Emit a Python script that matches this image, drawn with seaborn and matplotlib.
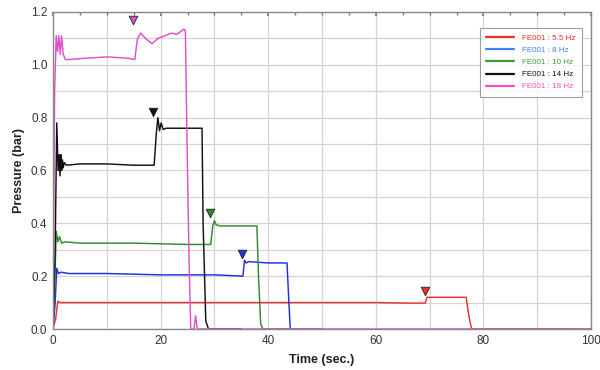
import matplotlib
matplotlib.use("Agg")
import matplotlib.pyplot as plt
import seaborn as sns
import pandas as pd
from matplotlib.ticker import MultipleLocator

# Pressure traces for each pump frequency (time in s, pressure in bar)
t_55 = [0, 0.5, 0.9, 1.3, 3, 10, 20, 30, 40, 50, 60, 66, 69.2, 69.5, 70.0, 72, 76.8, 77.3, 77.8, 85, 100]
p_55 = [0, 0.04, 0.105, 0.10, 0.10, 0.10, 0.10, 0.10, 0.10, 0.10, 0.10, 0.098, 0.098, 0.12, 0.12, 0.12, 0.12, 0.05, 0.0, 0.0, 0.0]

t_8 = [0, 0.4, 0.7, 1.0, 1.5, 3, 10, 20, 30, 35.3, 35.6, 35.9, 36.4, 40, 43.5, 43.8, 44.1, 50]
p_8 = [0, 0.10, 0.23, 0.21, 0.215, 0.21, 0.21, 0.205, 0.205, 0.20, 0.26, 0.25, 0.255, 0.25, 0.25, 0.12, 0.0, 0.0]

t_10 = [0, 0.3, 0.6, 0.9, 1.2, 1.6, 2.2, 5, 15, 25, 29.3, 29.7, 30.0, 30.3, 31, 35, 37.9, 38.2, 38.6, 39.0, 45]
p_10 = [0, 0.15, 0.37, 0.33, 0.35, 0.325, 0.33, 0.325, 0.325, 0.32, 0.32, 0.39, 0.41, 0.395, 0.39, 0.39, 0.39, 0.20, 0.02, 0.0, 0.0]

t_14 = [0, 0.4, 0.7, 0.95, 1.15, 1.3, 1.45, 1.6, 1.75, 1.9, 2.1, 2.5, 5, 10, 15, 18.8, 19.2, 19.5, 19.8, 20.1, 20.5, 21, 24, 27.7, 27.9, 28.4, 28.9, 35]
p_14 = [0, 0.30, 0.78, 0.60, 0.66, 0.58, 0.66, 0.60, 0.64, 0.61, 0.63, 0.62, 0.625, 0.625, 0.62, 0.62, 0.74, 0.80, 0.75, 0.78, 0.755, 0.76, 0.76, 0.76, 0.40, 0.03, 0.0, 0.0]

t_18 = [0, 0.3, 0.6, 0.85, 1.1, 1.35, 1.6, 1.9, 2.3, 3, 6, 10, 14, 15.2, 15.7, 16.3, 17.2, 18.4, 19.5, 20.8, 22, 23, 24.0, 24.3, 24.6, 25.0, 25.3, 25.6, 26.2, 26.5, 26.8, 27.5, 95]
p_18 = [0, 0.90, 1.11, 1.05, 1.11, 1.04, 1.11, 1.04, 1.02, 1.02, 1.025, 1.03, 1.025, 1.02, 1.10, 1.12, 1.10, 1.08, 1.10, 1.11, 1.12, 1.115, 1.13, 1.135, 1.13, 0.60, 0.25, 0.0, 0.0, 0.05, 0.0, 0.0, 0.0]

series_labels = ["FE001 : 5.5 Hz", "FE001 : 8 Hz", "FE001 : 10 Hz", "FE001 : 14 Hz", "FE001 : 18 Hz"]
series_times = [t_55, t_8, t_10, t_14, t_18]
series_values = [p_55, p_8, p_10, p_14, p_18]

# Step-change markers (time, pressure)
marker_t = [69.1, 35.1, 29.2, 18.6, 14.8]
marker_p = [0.144, 0.285, 0.44, 0.82, 1.17]

line_colors = ["#e8302c", "#1f2fe0", "#2e8a2e", "#111111", "#e050c8"]
legend_text_colors = ["#e8302c", "#3f7ff5", "#3f9a3f", "#111111", "#f050b8"]

frames = []
for lab, t, p in zip(series_labels, series_times, series_values):
    frames.append(pd.DataFrame({"Time": t, "Pressure": p, "Series": lab}))
df = pd.concat(frames, ignore_index=True)

sns.set_theme(style="white")
plt.rcParams["font.family"] = ["Liberation Sans", "DejaVu Sans"]

fig = plt.figure(figsize=(6.0, 3.7), dpi=100)
ax = fig.add_axes([53 / 600, 1 - 329 / 370, 538 / 600, 317 / 370])

sns.lineplot(data=df, x="Time", y="Pressure", hue="Series", hue_order=series_labels,
             palette=dict(zip(series_labels, line_colors)), estimator=None, sort=False,
             linewidth=1.05, ax=ax)

for mt, mp, c in zip(marker_t, marker_p, line_colors):
    ax.scatter([mt], [mp], marker="v", s=38, color=c, edgecolor="#222222", linewidth=0.6, zorder=5)

ax.set_xlim(0, 100)
ax.set_ylim(0, 1.2)
ax.xaxis.set_major_locator(MultipleLocator(20))
ax.xaxis.set_minor_locator(MultipleLocator(5))
ax.yaxis.set_major_locator(MultipleLocator(0.2))
ax.yaxis.set_minor_locator(MultipleLocator(0.1))
ax.set_yticklabels([f"{v:.1f}" for v in ax.get_yticks()])
ax.grid(which="major", color="#d4d4d4", linewidth=0.9)
ax.grid(which="minor", color="#d4d4d4", linewidth=0.9)
ax.xaxis.grid(False, which="minor")
for xv in range(10, 100, 20):
    ax.axvline(xv, color="#d4d4d4", linewidth=0.9, zorder=0)
ax.tick_params(axis="both", which="both", direction="in", top=True, right=False,
               labelsize=8.5, labelcolor="#333333", color="#777777", length=3, pad=4)
ax.tick_params(which="minor", length=2)
for s in ax.spines.values():
    s.set_color("#888888")
    s.set_linewidth(1.0)

ax.set_xlabel("Time (sec.)", fontsize=9, fontweight="bold", color="#222222", labelpad=5)
ax.set_ylabel("Pressure (bar)", fontsize=9, fontweight="bold", color="#222222", labelpad=4)

leg = ax.legend(loc="upper right", bbox_to_anchor=(0.99, 0.962), fontsize=5.8, frameon=True,
                fancybox=False, edgecolor="#888888", handlelength=3.4, labelspacing=0.55,
                borderpad=0.8, handletextpad=1.0)
leg.get_frame().set_linewidth(0.8)
for txt, c in zip(leg.get_texts(), legend_text_colors):
    txt.set_color(c)
for h, c in zip(leg.get_lines(), legend_text_colors):
    h.set_color(c)
    h.set_linewidth(1.6)

fig.savefig("out.png", dpi=100)
